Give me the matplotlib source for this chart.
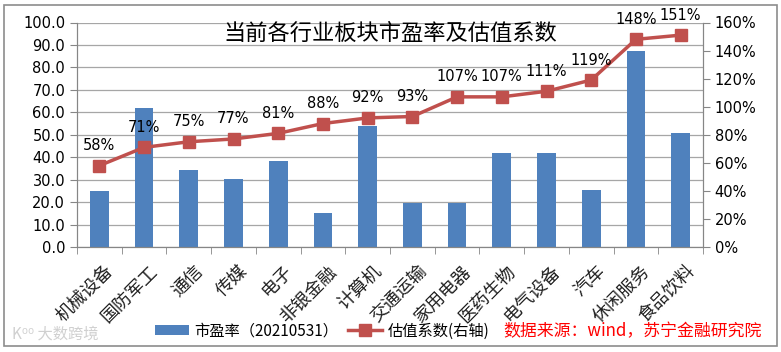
import matplotlib
matplotlib.use("Agg")
import matplotlib.pyplot as plt
from matplotlib.ticker import FuncFormatter, MultipleLocator, FixedLocator
from matplotlib.patches import Rectangle
from matplotlib.transforms import ScaledTranslation
import numpy as np

plt.rcParams['font.family'] = ['DejaVu Sans', 'Noto Sans CJK SC']

categories = ["机械设备", "国防军工", "通信", "传媒", "电子", "非银金融", "计算机",
              "交通运输", "家用电器", "医药生物", "电气设备", "汽车", "休闲服务", "食品饮料"]
pe_values = [25.0, 62.0, 34.5, 30.3, 38.5, 15.2, 54.0, 19.5, 19.5, 41.8, 41.8, 25.4, 87.1, 50.8]
coef_values = [0.58, 0.71, 0.75, 0.77, 0.81, 0.88, 0.92, 0.93, 1.07, 1.07, 1.11, 1.19, 1.48, 1.51]
bar_label = "市盈率（20210531）"
line_label = "估值系数(右轴)"
title = "当前各行业板块市盈率及估值系数"
source = "数据来源：wind，苏宁金融研究院"

cjk = ['Noto Sans CJK SC', 'DejaVu Sans']
bar_color = "#4F81BD"
line_color = "#C0504D"

fig = plt.figure(figsize=(7.81, 3.52), dpi=100)
ax = fig.add_axes([77/781, 1-247/352, (703-77)/781, (247-22.5)/352])
ax2 = ax.twinx()

x = np.arange(len(categories))
bars = ax.bar(x, pe_values, width=0.42, color=bar_color, zorder=2, label=bar_label)
ax.set_ylim(0, 100)
ax.yaxis.set_major_locator(MultipleLocator(10))
ax.yaxis.set_major_formatter(FuncFormatter(lambda v, p: f"{v:.1f}"))
ax.set_xlim(-0.5, len(categories)-0.5)
ax.grid(axis='y', color='#A6A6A6', linewidth=0.9, zorder=0)
ax.set_axisbelow(True)

ax.set_xticks(x)
ax.set_xticklabels(categories, rotation=45, ha='right', rotation_mode='anchor',
                   family=cjk, fontsize=13, color='#202020')
ax.tick_params(axis='x', length=0, pad=8)
off = ScaledTranslation(5/100, -4/100, fig.dpi_scale_trans)
for lab in ax.get_xticklabels():
    lab.set_transform(lab.get_transform() + off)
ax.xaxis.set_minor_locator(FixedLocator(np.arange(-0.5, len(categories), 1.0)))
ax.tick_params(axis='x', which='minor', length=5, color='#868686', direction='out')
ax.tick_params(axis='y', length=5, color='#868686', labelsize=10.5, direction='out')

line, = ax2.plot(x, coef_values, color=line_color, linewidth=2.5, marker='s',
                 markersize=9, zorder=3, label=line_label)
ax2.set_ylim(0, 1.6)
ax2.yaxis.set_major_locator(MultipleLocator(0.2))
ax2.yaxis.set_major_formatter(FuncFormatter(lambda v, p: f"{v*100:.0f}%"))
ax2.tick_params(axis='y', length=5, color='#868686', labelsize=10.5, direction='out')

for xi, v in zip(x, coef_values):
    ax2.annotate(f"{v*100:.0f}%", (xi, v), xytext=(0, 9), textcoords='offset points',
                 ha='center', va='bottom', fontsize=10.5)

for a in (ax, ax2):
    a.spines['top'].set_visible(False)
    a.spines['left'].set_color('#868686')
    a.spines['right'].set_color('#868686')
    a.spines['bottom'].set_color('#868686')

ax.set_zorder(1)
ax2.set_zorder(2)
ax2.patch.set_visible(False)

fig.text(390/781, 1-33/352, title, family=cjk, fontsize=16, ha='center', va='center')

leg = fig.legend([bars, line], [bar_label, line_label], loc='center left',
                 bbox_to_anchor=(155/781, 1-331/352), ncol=2, frameon=False,
                 prop={'family': cjk, 'size': 11}, handlelength=2.2, handleheight=0.6,
                 columnspacing=0.6, handletextpad=0.4, borderpad=0, borderaxespad=0)
fig.text(503/781, 1-331/352, source, family=cjk, fontsize=12.2, color='#FF0000',
         style='italic', ha='left', va='center')
fig.text(12/781, 1-334/352, "K⁰⁰ 大数跨境", family=cjk, fontsize=11, color='#D0D0D0',
         ha='left', va='center')

fig.patches.append(Rectangle((4/781, 6/352), 773/781, 341/352, transform=fig.transFigure,
                             fill=False, edgecolor='#8C8C8C', linewidth=1.2))

fig.savefig("out.png", dpi=100)
